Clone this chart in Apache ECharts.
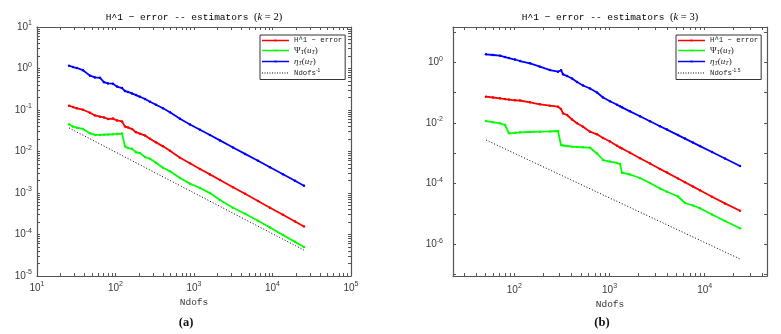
<!DOCTYPE html>
<html>
<head>
<meta charset="utf-8">
<script src="https://cdn.jsdelivr.net/npm/echarts@6/dist/echarts.min.js"></script>
<style>
  html, body { margin: 0; padding: 0; background: #fff; }
  #chart { width: 781px; height: 334px; }
</style>
</head>
<body>
<div id="chart"></div>
<script>
// ---- panel (a): k = 2 ----
const ndofsA = [25.6, 28.7, 32.3, 38.5, 47.3, 54.8, 63.5, 71.4, 80.3, 92.9, 104.5, 121.1, 132.2, 144.3, 162.2, 182.4, 205.1, 237.6, 275, 328, 403, 495, 663, 889, 1192, 1598, 2143, 3140, 4466, 6537, 9292, 13600, 19350, 25200];
const errA = [0.1268, 0.118, 0.110, 0.1016, 0.0857, 0.0738, 0.0690, 0.0661, 0.0608, 0.062, 0.056, 0.053, 0.0398, 0.0380, 0.0347, 0.0292, 0.0269, 0.0242, 0.0202, 0.0166, 0.0133, 0.0104, 0.00706, 0.00519, 0.00380, 0.00281, 0.00206, 0.00138, 0.000957, 0.000643, 0.000442, 0.000299, 0.000206, 0.000156];
const psiA = [0.0454, 0.0398, 0.0376, 0.0350, 0.0276, 0.0251, 0.0251, 0.0254, 0.0257, 0.0260, 0.0264, 0.0270, 0.0133, 0.0121, 0.0116, 0.00957, 0.00916, 0.00735, 0.00668, 0.00536, 0.00406, 0.00335, 0.00230, 0.00168, 0.00132, 0.000995, 0.000676, 0.000440, 0.000315, 0.000214, 0.000148, 0.0000977, 0.0000665, 0.0000499];
const etaA = [1.167, 1.086, 1.028, 0.910, 0.672, 0.608, 0.595, 0.469, 0.437, 0.43, 0.366, 0.337, 0.286, 0.273, 0.251, 0.229, 0.208, 0.184, 0.158, 0.134, 0.110, 0.0881, 0.0615, 0.0449, 0.0335, 0.0249, 0.0185, 0.01254, 0.00875, 0.00596, 0.00416, 0.00282, 0.00197, 0.00150];
const refNdofsA = [25.6, 25200];
const refA = [0.037, 0.000042];

// ---- panel (b): k = 3 ----
const ndofsB = [50.4, 59.7, 70.7, 79.8, 87.9, 101.7, 114.8, 146.2, 186.2, 237.1, 287.6, 309.5, 325, 358, 404, 456, 527, 624, 739, 855, 1012, 1199, 1289, 1353, 1641, 2090, 2662, 3390, 4017, 5238, 6207, 7535, 8917, 11920, 16320, 23480];
const errB = [0.0734, 0.0691, 0.0650, 0.0616, 0.0593, 0.0558, 0.0551, 0.0480, 0.0412, 0.0371, 0.0344, 0.0289, 0.0208, 0.0183, 0.0130, 0.00974, 0.00752, 0.00515, 0.00423, 0.00319, 0.00245, 0.00177, 0.00156, 0.00144, 0.00104, 0.000689, 0.000460, 0.000305, 0.000231, 0.000147, 0.000111, 0.0000798, 0.0000603, 0.0000368, 0.0000223, 0.0000128];
const psiB = [0.0116, 0.0106, 0.00974, 0.00857, 0.00456, 0.00474, 0.00492, 0.00504, 0.00515, 0.00527, 0.00543, 0.00188, 0.00181, 0.00174, 0.00165, 0.00161, 0.00158, 0.00153, 0.000984, 0.000601, 0.000536, 0.000479, 0.000444, 0.000229, 0.000200, 0.000153, 0.000105, 0.0000690, 0.0000541, 0.0000376, 0.0000230, 0.0000190, 0.0000154, 0.00000959, 0.00000586, 0.00000337];
const etaB = [1.835, 1.741, 1.651, 1.496, 1.386, 1.237, 1.104, 0.927, 0.716, 0.557, 0.490, 0.549, 0.402, 0.353, 0.292, 0.226, 0.172, 0.137, 0.101, 0.0691, 0.0518, 0.0397, 0.0354, 0.0328, 0.0242, 0.0166, 0.01143, 0.00782, 0.00604, 0.00398, 0.00305, 0.00225, 0.00173, 0.00110, 0.000673, 0.000381];
const refNdofsB = [50.4, 23480];
const refB = [0.00274, 0.000000327];

const axisColor = '#555';
const labelColor = '#3a3a3a';
const mono = 'Liberation Mono';
const sans = 'Liberation Sans';
const serif = 'Liberation Serif';

const pairs = (xs, ys) => xs.map((x, i) => [x, ys[i]]);

// tick positions (in log10 units) for the decorative tick axes
function logTicks(lo, hi, mult) {
  const out = [];
  for (let e = Math.floor(lo); e <= Math.ceil(hi); e++) {
    mult.forEach(m => {
      const v = e + Math.log10(m);
      if (v >= lo - 1e-9 && v <= hi + 1e-9) out.push(v);
    });
  }
  return out;
}
const all = [1, 2, 3, 4, 5, 6, 7, 8, 9];

function powLabel(step) {
  return function (v) {
    const e = Math.log10(v);
    const r = Math.round(e);
    if (Math.abs(e - r) > 1e-4 || r % step) return '';
    return '{b|10}{s|' + r + '}';
  };
}
const labelRich = {
  b: { fontFamily: sans, fontSize: 10, lineHeight: 14, color: labelColor },
  s: { fontFamily: sans, fontSize: 7, lineHeight: 7, verticalAlign: 'top', color: labelColor }
};

function logAxis(gridIndex, position, min, max, step, margin, name) {
  return {
    type: 'log', logBase: 10, gridIndex, position, min, max,
    name: name || '', nameLocation: 'middle', nameGap: 20,
    nameTextStyle: { fontFamily: mono, fontSize: 9.5, color: '#333' },
    axisLine: { show: true, onZero: false, lineStyle: { color: axisColor, width: 1.2 } },
    axisTick: { show: false },
    splitLine: { show: false },
    axisLabel: { margin, formatter: powLabel(step), rich: labelRich }
  };
}
function tickAxis(gridIndex, position, lo, hi, ticks, showLine) {
  return {
    type: 'value', gridIndex, position, min: lo, max: hi,
    axisLine: { show: showLine, onZero: false, lineStyle: { color: axisColor, width: 1.2 } },
    axisTick: { show: true, inside: true, length: 3, customValues: ticks, lineStyle: { color: axisColor } },
    axisLabel: { show: false },
    splitLine: { show: false }
  };
}

const xbA = [10, 100000], ybA = [0.00001, 10];
const xbB = [22.7, 45100], ybB = [0.00000009, 14.6];
const L = v => Math.log10(v);

function curve(name, xs, ys, color, ax) {
  return {
    name, type: 'line', xAxisIndex: ax, yAxisIndex: ax,
    data: pairs(xs, ys),
    symbol: 'circle', symbolSize: 2.5, showSymbol: true,
    lineStyle: { color, width: 1.8 }, itemStyle: { color },
    silent: true
  };
}
function refLine(name, xs, ys, ax) {
  return {
    name, type: 'line', xAxisIndex: ax, yAxisIndex: ax,
    data: pairs(xs, ys), symbol: 'none',
    lineStyle: { color: '#000', width: 1, type: [1, 2] }, itemStyle: { color: '#000' },
    silent: true
  };
}

// legend icons
const box = 'M0,0h0.01v0.01h-0.01zM26.99,7.99h0.01v0.01h-0.01z';
const solidIcon = 'path://' + box + 'M0,3.25h27v1.5h-27zM12.4,2.9h2.2v2.2h-2.2z';
let dots = box;
for (let x = 0; x < 27; x += 2.5) dots += 'M' + x + ',3.5h1v1h-1z';
const dotIcon = 'path://' + dots;

const legendRich = {
  m: { fontFamily: mono, fontSize: 7.3, lineHeight: 10, color: '#222' },
  g: { fontFamily: serif, fontSize: 9, lineHeight: 10, color: '#222' },
  gi: { fontFamily: serif, fontSize: 9, fontStyle: 'italic', lineHeight: 10, color: '#222' },
  sub: { fontFamily: serif, fontSize: 6, fontStyle: 'italic', lineHeight: 6, verticalAlign: 'bottom', color: '#222' },
  sup: { fontFamily: sans, fontSize: 5, lineHeight: 5, verticalAlign: 'top', color: '#222' }
};
const legendText = {
  errA: '{m|H^1 − error}', errB: '{m|H^1 − error}',
  psiA: '{g|Ψ}{sub|T}{g|(}{gi|u}{sub|T}{g|)}', psiB: '{g|Ψ}{sub|T}{g|(}{gi|u}{sub|T}{g|)}',
  etaA: '{gi|η}{sub|T}{g|(}{gi|u}{sub|T}{g|)}', etaB: '{gi|η}{sub|T}{g|(}{gi|u}{sub|T}{g|)}',
  refA: '{m|Ndofs}{sup|-1}', refB: '{m|Ndofs}{sup|-1.5}'
};
function legendFor(left, keys) {
  return {
    left, top: 35, orient: 'vertical', selectedMode: false,
    backgroundColor: '#fff', borderColor: '#333', borderWidth: 1, borderRadius: 0,
    padding: [1.5, 3, 2.5, 2], itemWidth: 27, itemHeight: 8, itemGap: 1.5,
    data: [
      { name: keys[0], icon: solidIcon }, { name: keys[1], icon: solidIcon },
      { name: keys[2], icon: solidIcon }, { name: keys[3], icon: dotIcon }
    ],
    formatter: n => legendText[n],
    textStyle: { rich: legendRich }
  };
}

const titleRich = {
  m: { fontFamily: mono, fontSize: 9.5, color: '#111' },
  s: { fontFamily: serif, fontSize: 10.5, color: '#111' },
  i: { fontFamily: serif, fontSize: 10.5, fontStyle: 'italic', color: '#111' }
};
function titleText(x, k) {
  return {
    type: 'text', x, y: 17,
    style: {
      text: '{m|H^1 − error -- estimators }{s|(}{i|k}{s| = ' + k + ')}',
      rich: titleRich, align: 'center', verticalAlign: 'middle',
      textAlign: 'center', textVerticalAlign: 'middle'
    }
  };
}
function panelText(x, t) {
  return {
    type: 'text', x, y: 323,
    style: {
      text: t, fontFamily: serif, fontSize: 12.5, fontWeight: 'bold', fill: '#111',
      align: 'center', verticalAlign: 'middle', textAlign: 'center', textVerticalAlign: 'middle'
    }
  };
}

const myChart = echarts.init(document.getElementById('chart'));
const option = {
  animation: false,
  backgroundColor: '#fff',
  grid: [
    { left: 37, top: 27, width: 314, height: 249 },
    { left: 453, top: 27, width: 314, height: 249 }
  ],
  xAxis: [
    logAxis(0, 'bottom', xbA[0], xbA[1], 1, 5, 'Ndofs'),
    tickAxis(0, 'top', L(xbA[0]), L(xbA[1]), logTicks(L(xbA[0]), L(xbA[1]), all), true),
    tickAxis(0, 'bottom', L(xbA[0]), L(xbA[1]), logTicks(L(xbA[0]), L(xbA[1]), all), false),
    logAxis(1, 'bottom', xbB[0], xbB[1], 1, 7, 'Ndofs'),
    tickAxis(1, 'top', L(xbB[0]), L(xbB[1]), logTicks(L(xbB[0]), L(xbB[1]), all), true),
    tickAxis(1, 'bottom', L(xbB[0]), L(xbB[1]), logTicks(L(xbB[0]), L(xbB[1]), all), false)
  ],
  yAxis: [
    logAxis(0, 'left', ybA[0], ybA[1], 1, 5),
    tickAxis(0, 'right', L(ybA[0]), L(ybA[1]), logTicks(L(ybA[0]), L(ybA[1]), all), true),
    tickAxis(0, 'left', L(ybA[0]), L(ybA[1]), logTicks(L(ybA[0]), L(ybA[1]), all), false),
    logAxis(1, 'left', ybB[0], ybB[1], 2, 10),
    tickAxis(1, 'right', L(ybB[0]), L(ybB[1]), logTicks(L(ybB[0]), L(ybB[1]), [1]), true),
    tickAxis(1, 'left', L(ybB[0]), L(ybB[1]), logTicks(L(ybB[0]), L(ybB[1]), [1]), false)
  ],
  legend: [
    legendFor(260, ['errA', 'psiA', 'etaA', 'refA']),
    legendFor(676, ['errB', 'psiB', 'etaB', 'refB'])
  ],
  graphic: [
    titleText(194, 2), titleText(610, 3),
    panelText(186, '(a)'), panelText(602, '(b)')
  ],
  series: [
    curve('errA', ndofsA, errA, '#ff0000', 0),
    curve('psiA', ndofsA, psiA, '#00ff00', 0),
    curve('etaA', ndofsA, etaA, '#0000ff', 0),
    refLine('refA', refNdofsA, refA, 0),
    curve('errB', ndofsB, errB, '#ff0000', 3),
    curve('psiB', ndofsB, psiB, '#00ff00', 3),
    curve('etaB', ndofsB, etaB, '#0000ff', 3),
    refLine('refB', refNdofsB, refB, 3)
  ]
};
myChart.setOption(option);
window.addEventListener('resize', function () {
  myChart.resize();
});
</script>
</body>
</html>
